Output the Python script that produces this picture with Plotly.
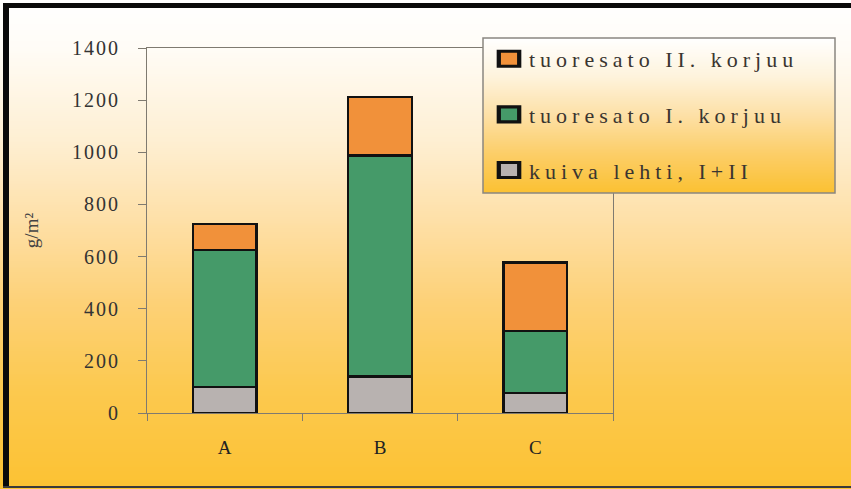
import base64, struct, zlib
import plotly.graph_objects as go

categories = ["A", "B", "C"]
kuiva = [100, 140, 77]
tuore1 = [525, 847, 237]
tuore2 = [100, 226, 263]
names = ["kuiva lehti, I+II", "tuoresato I. korjuu", "tuoresato II. korjuu"]
colors = ["#B8B2B0", "#459A69", "#F1913A"]
ranks = [3, 2, 1]

W, H = 851, 489
L, R, T, B = 147, 613, 48, 413

def px2x(px):
    return (px - L) / (R - L)

def py2y(py):
    return (B - py) / (B - T)

def make_png(stops, n=256, w=4):
    def col(t):
        for (t0, c0), (t1, c1) in zip(stops[:-1], stops[1:]):
            if t0 <= t <= t1:
                f = (t - t0) / (t1 - t0) if t1 > t0 else 0
                return tuple(int(round(c0[i] + (c1[i] - c0[i]) * f)) for i in range(3))
        return stops[-1][1]
    raw = b""
    for r in range(n):
        c = col(r / (n - 1))
        raw += b"\x00" + bytes(c) * w
    def chunk(tag, data):
        return struct.pack(">I", len(data)) + tag + data + struct.pack(">I", zlib.crc32(tag + data) & 0xffffffff)
    png = b"\x89PNG\r\n\x1a\n" + chunk(b"IHDR", struct.pack(">IIBBBBB", w, n, 8, 2, 0, 0, 0))
    png += chunk(b"IDAT", zlib.compress(raw)) + chunk(b"IEND", b"")
    return "data:image/png;base64," + base64.b64encode(png).decode()

def hx(s):
    s = s.lstrip("#")
    return tuple(int(s[i:i+2], 16) for i in (0, 2, 4))

bg = make_png([(0.0, hx("#FFFFFF")), (0.1, hx("#FFFCF6")), (0.3, hx("#FEEED0")),
               (0.45, hx("#FEE0A8")), (0.62, hx("#FDD177")), (0.8, hx("#FCC94F")),
               (1.0, hx("#FCC233"))])
lg = make_png([(0.0, hx("#FFFFFF")), (0.25, hx("#FEF3DC")), (0.5, hx("#FDE0A6")),
               (0.75, hx("#FCCE68")), (1.0, hx("#FBC133"))])

fig = go.Figure()
for nm, vals, c, rk in zip(names, [kuiva, tuore1, tuore2], colors, ranks):
    fig.add_trace(go.Bar(x=categories, y=vals, name=nm, legendgroup=nm, legendrank=rk,
                         marker=dict(color=c, line=dict(color="#111111", width=2.5))))

serif = "Liberation Serif"
LX0, LX1, LY0, LY1 = 483, 835, 38, 193

fig.update_layout(
    width=W, height=H,
    margin=dict(l=L, r=W - R, t=T, b=H - B, autoexpand=False),
    barmode="stack", bargap=0.59,
    paper_bgcolor="white", plot_bgcolor="rgba(0,0,0,0)",
    showlegend=True,
    legend=dict(x=px2x(LX0 + 6), y=py2y(LY0), xanchor="left", yanchor="top",
                traceorder="grouped", tracegroupgap=24,
                bgcolor="rgba(0,0,0,0)", borderwidth=0,
                font=dict(family=serif, size=22, color="#3A3530")),
    xaxis=dict(showline=True, linecolor="#7F7A70", linewidth=1, mirror=True,
               ticks="outside", tickson="boundaries", ticklen=7, tickcolor="#7F7A70",
               tickfont=dict(family=serif, size=19, color="#222222"),
               ticklabelstandoff=17, showgrid=False),
    yaxis=dict(range=[0, 1400], dtick=200, showline=True, linecolor="#7F7A70",
               linewidth=1, mirror=True, ticks="outside", ticklen=8, tickcolor="#7F7A70",
               tickfont=dict(family=serif, size=20, color="#333333"),
               ticklabelstandoff=14, showgrid=False, zeroline=False,
               title=dict(text="g/m²", font=dict(family=serif, size=19, color="#444444"),
                          standoff=36)),
    images=[
        dict(source=bg, xref="paper", yref="paper", x=px2x(0), y=py2y(0),
             sizex=W / (R - L), sizey=H / (B - T), xanchor="left", yanchor="top",
             sizing="stretch", layer="below"),
        dict(source=lg, xref="paper", yref="paper", x=px2x(LX0), y=py2y(LY0),
             sizex=(LX1 - LX0) / (R - L), sizey=(LY1 - LY0) / (B - T),
             xanchor="left", yanchor="top", sizing="stretch", layer="above"),
    ],
    shapes=[
        dict(type="rect", xref="paper", yref="paper", x0=px2x(LX0), x1=px2x(LX1),
             y0=py2y(LY0), y1=py2y(LY1), line=dict(color="#8A8680", width=1.5), layer="above"),
        dict(type="rect", xref="paper", yref="paper", x0=px2x(3), x1=px2x(9),
             y0=py2y(3), y1=py2y(488), fillcolor="#0A0A0A", line=dict(width=0), layer="above"),
        dict(type="rect", xref="paper", yref="paper", x0=px2x(3), x1=px2x(W),
             y0=py2y(3), y1=py2y(8), fillcolor="#0A0A0A", line=dict(width=0), layer="above"),
        dict(type="rect", xref="paper", yref="paper", x0=px2x(3), x1=px2x(W),
             y0=py2y(486), y1=py2y(488), fillcolor="#3A3A3A", line=dict(width=0), layer="above"),
    ],
)

post = """
var gd = document.getElementById('{plot_id}');
function spacing() {
  gd.querySelectorAll('.legendtext').forEach(function(e){ e.style.letterSpacing = '5px'; });
  gd.querySelectorAll('.legend [clip-path]').forEach(function(e){ e.removeAttribute('clip-path'); });
  gd.querySelectorAll('.legendpoints path').forEach(function(e){
    if (e.getAttribute('data-t0') === null) { e.setAttribute('data-t0', e.getAttribute('transform') || ''); }
    e.setAttribute('transform', e.getAttribute('data-t0') + ' scale(1.7,1.25)');
  });
  gd.querySelectorAll('.ytick text').forEach(function(e){ e.style.letterSpacing = '2px'; });
}
spacing();
gd.on('plotly_afterplot', spacing);
"""

fig.write_html("out.html", post_script=post)
